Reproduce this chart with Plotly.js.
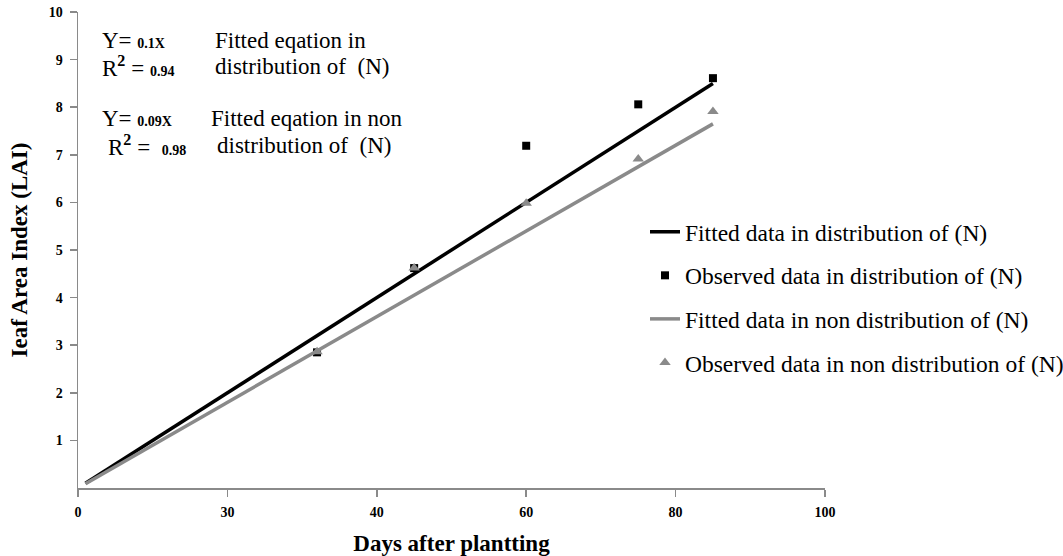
<!DOCTYPE html>
<html>
<head>
<meta charset="utf-8">
<script src="https://cdn.plot.ly/plotly-3.0.1.min.js"></script>
<style>html,body{margin:0;padding:0;background:#fff;}#chart{width:1063px;height:556px;}</style>
</head>
<body>
<div id="chart"></div>
<script>
// Data
const obsDays = [32, 45, 60, 75, 85];
const obsDist = [2.85, 4.62, 7.19, 8.06, 8.61];
const obsNonDist = [2.86, 4.62, 5.98, 6.91, 7.91];
const fitDays = [1, 85];
const fitDist = [0.1, 8.5];
const fitNonDist = [0.09, 7.65];

const xTickVals = [0, 20, 40, 60, 80, 100];
const xTickText = ["0", "30", "40", "60", "80", "100"];
const yTickVals = [1, 2, 3, 4, 5, 6, 7, 8, 9, 10];
const yTickText = ["1", "2", "3", "4", "5", "6", "7", "8", "9", "10"];

const serif = "Liberation Serif, Times New Roman, serif";
const gray = "#8a8a8a";

const traces = [
  {x: fitDays, y: fitDist, mode: "lines", name: "Fitted data in distribution of (N)",
   line: {color: "#000", width: 3.5}, legendgroup: "a"},
  {x: obsDays, y: obsDist, mode: "markers", name: "Observed data in distribution of (N)",
   marker: {symbol: "square", size: 8, color: "#000"}, legendgroup: "b"},
  {x: fitDays, y: fitNonDist, mode: "lines", name: "Fitted data in non distribution of (N)",
   line: {color: gray, width: 3.5}, legendgroup: "c"},
  {x: obsDays, y: obsNonDist, mode: "markers", name: "Observed data in non distribution of (N)",
   marker: {symbol: "triangle-up", size: 10, color: gray}, legendgroup: "d"}
];

function px2x(p){ return (p - 78) / 747; }
function py2y(p){ return (488 - p) / 476; }
function ann(text, left, midY){
  return {text: text, xref: "paper", yref: "paper", x: px2x(left), y: py2y(midY),
          xanchor: "left", yanchor: "middle", showarrow: false,
          font: {family: serif, size: 23, color: "#000"}};
}
const sm = "<span style='font-size:14px'><b>";
const se = "</b></span>";

const layout = {
  width: 1063, height: 556,
  margin: {l: 78, r: 238, t: 12, b: 68, autoexpand: false},
  paper_bgcolor: "#fff", plot_bgcolor: "#fff",
  showlegend: true,
  legend: {x: px2x(645), y: py2y(210), xanchor: "left", yanchor: "top",
           font: {family: serif, size: 23.5, color: "#000"},
           tracegroupgap: 10, bgcolor: "rgba(0,0,0,0)"},
  xaxis: {range: [0, 100], tickvals: xTickVals, ticktext: xTickText,
          showgrid: false, zeroline: false, showline: true, linecolor: gray, linewidth: 1.5,
          ticks: "outside", ticklen: 7, tickcolor: gray, tickwidth: 1.5, ticklabelstandoff: 4,
          tickfont: {family: serif, size: 14, color: "#000", weight: "bold"},
          title: {text: "<b>Days after plantting</b>", font: {family: serif, size: 23, color: "#000"}, standoff: 16}},
  yaxis: {range: [0, 10], tickvals: yTickVals, ticktext: yTickText,
          showgrid: false, zeroline: false, showline: true, linecolor: gray, linewidth: 1.5,
          ticks: "outside", ticklen: 7, tickcolor: gray, tickwidth: 1.5, ticklabelstandoff: 4,
          tickfont: {family: serif, size: 14, color: "#000", weight: "bold"},
          title: {text: "<b>Ieaf Area Index (LAI)</b>", font: {family: serif, size: 23, color: "#000"}, standoff: 14}},
  annotations: [
    ann("Y= " + sm + "0.1X" + se, 100, 40),
    ann("R<sup><b>2</b></sup> = " + sm + "0.94" + se, 100, 66),
    ann("Fitted eqation in", 213, 40),
    ann("distribution of  (N)", 213, 66),
    ann("Y= " + sm + "0.09X" + se, 100, 118),
    ann("R<sup><b>2</b></sup> =  " + sm + "0.98" + se, 106, 145),
    ann("Fitted eqation in non", 209, 118),
    ann("distribution of  (N)", 215, 145)
  ]
};

Plotly.newPlot("chart", traces, layout, {displayModeBar: false, staticPlot: true});
</script>
</body>
</html>
